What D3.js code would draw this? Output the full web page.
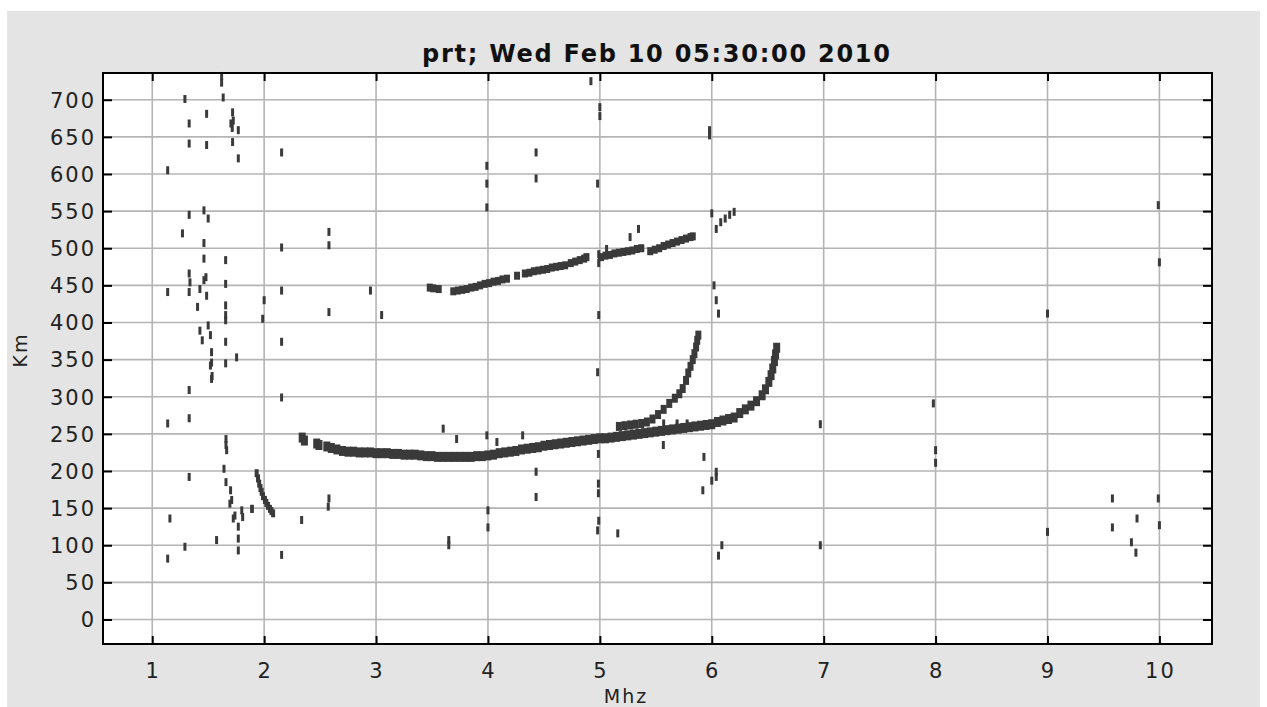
<!DOCTYPE html>
<html><head><meta charset="utf-8">
<script src="https://cdn.jsdelivr.net/npm/d3@7"></script>
<style>
html,body{margin:0;padding:0;background:#fff;}
svg{display:block;}
</style></head>
<body>
<svg id="chart" width="1267" height="707"></svg>
<script>
// ---------- DATA ----------
const title = "prt; Wed Feb 10 05:30:00 2010";
const xLabel = "Mhz";
const yLabel = "Km";
const xTicks = [1,2,3,4,5,6,7,8,9,10];
const yTicks = [0,50,100,150,200,250,300,350,400,450,500,550,600,650,700];

// main F-trace (frequency MHz, virtual height km)
const lowerTrace = [[2.34,245],[2.36,241],[2.47,237],[2.49,235],
 [2.56,233],[2.6,231],[2.65,229],[2.7,227],[2.75,226],[2.8,226],[2.85,225],[2.9,225],[2.95,225],
 [3.0,224],[3.05,224],[3.1,224],[3.15,223],[3.2,223],[3.25,222],[3.3,222],[3.35,222],[3.4,221],
 [3.45,220],[3.5,220],[3.55,219],[3.6,219],[3.65,219],[3.7,219],[3.75,219],[3.8,219],[3.85,219],
 [3.9,220],[3.95,220],[4.0,221],[4.05,222],[4.1,224],[4.15,225],[4.2,226],[4.25,227],[4.3,229],
 [4.35,230],[4.4,231],[4.45,232],[4.5,234],[4.55,235],[4.6,236],[4.65,237],[4.7,238],[4.75,239],
 [4.8,240],[4.85,241],[4.9,242],[4.95,243],[5.0,244],[5.05,244],[5.1,245],[5.15,246],[5.2,247],
 [5.25,248],[5.3,249],[5.35,250],[5.4,251],[5.45,252],[5.5,253],[5.55,254],[5.6,255],[5.65,256],
 [5.7,257],[5.75,258],[5.8,259],[5.85,260],[5.9,261],[5.95,262],[6.0,263],[6.05,266],[6.1,268],
 [6.15,270],[6.2,272],[6.25,278],[6.3,283],[6.35,288],[6.4,294],[6.45,302],[6.48,310],[6.51,320],
 [6.53,329],[6.545,338],[6.56,348],[6.57,357],[6.58,366]];

// second branch rising at ~5.9 MHz
const upperBranch = [[5.17,260],[5.22,261],[5.27,262],[5.32,263],[5.37,264],[5.42,266],[5.47,270],
 [5.52,276],[5.57,283],[5.62,291],[5.67,298],[5.71,304],[5.74,311],[5.77,322],[5.79,332],[5.81,341],
 [5.83,350],[5.845,358],[5.86,367],[5.87,376],[5.88,383]];

// multiple-hop trace near 450-515 km
const upperTrace = [[3.48,447],[3.51,446],[3.56,445],
 [3.69,442],[3.73,443],[3.77,444],[3.81,445],[3.85,447],[3.89,448],[3.93,450],[3.97,452],[4.01,453],
 [4.05,455],[4.09,456],[4.13,458],[4.17,459],[4.26,463],
 [4.33,466],[4.37,467],[4.41,469],[4.45,470],[4.49,471],[4.53,472],[4.57,474],[4.61,475],[4.65,476],[4.69,477],
 [4.74,480],[4.78,482],[4.82,484],[4.86,486],[4.88,488],
 [5.01,488],[5.05,490],[5.09,491],[5.13,493],[5.17,494],[5.21,495],[5.25,496],[5.29,497],[5.33,499],[5.37,500],
 [5.45,496],[5.49,498],[5.53,500],[5.57,503],[5.61,505],[5.65,507],[5.69,509],[5.73,511],[5.77,513],[5.81,515],[5.83,516]];

// short hook near 2 MHz
const hookTrace = [[1.933,197],[1.945,190],[1.956,183],[1.967,177],[1.978,172],[1.99,166],[2.007,161],
 [2.02,157],[2.035,153],[2.052,149],[2.065,146],[2.08,143]];

// isolated echoes
const scatterEchoes = [[1.62,723],[1.62,732],[1.292,701],[1.634,703],[1.486,681],[1.718,683],[1.33,668],[1.703,668],
 [1.715,662],[1.724,672],[1.769,659],[1.33,641],[1.486,639],[1.718,643],[1.769,621],[2.156,629],[1.138,605],
 [1.462,551],[1.33,545],[1.5,540],[1.27,520],[2.579,522],[1.462,507],[2.156,501],[2.579,504],[1.462,486],
 [1.656,484],[1.33,466],[1.337,454],[1.48,461],[1.462,457],[1.656,452],[1.138,441],[1.33,441],[1.426,445],
 [1.486,436],[2.156,443],[2.0,430],[1.405,421],[1.656,423],[1.656,410],[1.656,403],[1.987,405],[2.579,414],
 [1.5,396],[1.426,389],[1.52,383],[1.447,376],[1.656,374],[2.156,374],[1.53,360],[1.754,353],[1.52,342],
 [1.53,346],[1.656,345],[1.53,324],[1.535,328],[1.33,309],[2.156,299],[1.138,264],[1.33,271],[1.659,243],
 [1.659,235],[1.665,228],[1.641,203],[1.33,192],[1.659,185],[1.70,174],[1.71,161],[1.694,156],[1.724,136],
 [1.739,140],[1.8,147],[1.808,138],[1.888,149],[1.895,149],[1.769,125],[1.769,109],[1.769,93],[1.575,107],
 [1.292,98],[1.158,136],[1.138,82],[2.156,87],[2.335,134],[2.579,163],[2.573,152],
 [2.95,443],[3.05,410],[3.6,257],[3.65,107],[3.65,100],[3.99,248],[4.08,239],[4.31,248],[3.72,243],
 [4.0,124],[4.0,147],[4.43,199],[4.43,165],[3.99,611],[3.99,587],[3.99,555],[4.43,629],[4.43,594],
 [4.92,725],[5.0,690],[5.0,678],[4.98,587],[4.99,410],[4.98,333],[4.99,133],[4.98,120],[5.16,116],
 [4.987,223],[4.987,183],[4.987,170],[5.567,235],[5.93,219],[6.04,199],[6.04,192],[6.0,187],[5.92,174],
 [5.98,659],[5.98,652],[6.0,547],[6.02,450],[6.04,430],[6.06,412],[6.09,100],[6.06,86],[6.97,263],
 [6.97,100],[7.98,291],[8.0,228],[8.0,211],[9.0,412],[9.0,118],[9.58,124],[9.58,163],[9.80,136],
 [9.75,104],[9.79,90],[9.99,558],[10.0,481],[9.99,163],[10.0,127],[4.99,480],[4.99,492],[5.06,499],
 [5.27,515],[5.345,526],[6.04,526],[6.08,535],[6.12,540],[6.16,545],[6.2,549],[5.57,264],[5.69,264],[5.78,264]];

// ---------- LAYOUT ----------
const W = 1267, H = 707;
const plot = {left:103, right:1212, top:73, bottom:644};
const svg = d3.select("#chart");
const ink = "#3a3a3a";

svg.append("rect").attr("x",7).attr("y",11).attr("width",1253).attr("height",H-11).attr("fill","#e4e4e4");
svg.append("rect").attr("x",plot.left).attr("y",plot.top)
  .attr("width",plot.right-plot.left).attr("height",plot.bottom-plot.top).attr("fill","#fff");

const x = d3.scaleLinear().domain([0.56,10.47]).range([plot.left,plot.right]);
const y = d3.scaleLinear().domain([-33,736]).range([plot.bottom,plot.top]);

// grid
const grid = svg.append("g");
grid.selectAll(".vx").data(xTicks).join("line")
  .attr("x1",d=>x(d)).attr("x2",d=>x(d)).attr("y1",plot.top).attr("y2",plot.bottom)
  .attr("stroke","#b4b4b4").attr("stroke-width",1.6);
grid.selectAll(".hy").data(yTicks).join("line")
  .attr("y1",d=>y(d)).attr("y2",d=>y(d)).attr("x1",plot.left).attr("x2",plot.right)
  .attr("stroke","#b4b4b4").attr("stroke-width",1.6);

// marks
function dashes(data, w, h){
  svg.append("g").selectAll("rect").data(data).join("rect")
    .attr("x",d=>x(d[0])-w/2).attr("y",d=>y(d[1])-h/2)
    .attr("width",w).attr("height",h).attr("fill",ink);
}
dashes(scatterEchoes, 3, 8);
dashes(hookTrace, 4, 8);
dashes(upperTrace, 6, 8);
dashes(upperBranch, 6, 9);
dashes(lowerTrace, 7, 10);

// axes (ticks inward)
const tickStyle = g => {
  g.select(".domain").remove();
  g.selectAll(".tick line").attr("stroke","#000").attr("stroke-width",2);
  g.selectAll(".tick text").remove();
};
svg.append("g").attr("transform",`translate(0,${plot.bottom})`)
  .call(d3.axisTop(x).tickValues(xTicks).tickSize(8)).call(tickStyle);
svg.append("g").attr("transform",`translate(0,${plot.top})`)
  .call(d3.axisBottom(x).tickValues(xTicks).tickSize(8)).call(tickStyle);
svg.append("g").attr("transform",`translate(${plot.left},0)`)
  .call(d3.axisRight(y).tickValues(yTicks).tickSize(9)).call(tickStyle);
svg.append("g").attr("transform",`translate(${plot.right},0)`)
  .call(d3.axisLeft(y).tickValues(yTicks).tickSize(9)).call(tickStyle);

// frame
svg.append("rect").attr("x",plot.left).attr("y",plot.top)
  .attr("width",plot.right-plot.left).attr("height",plot.bottom-plot.top)
  .attr("fill","none").attr("stroke","#000").attr("stroke-width",2);

// tick labels
const lblFont = "'DejaVu Sans', sans-serif";
svg.append("g").selectAll("text").data(yTicks).join("text")
  .attr("x",96).attr("y",d=>y(d)).attr("dy","0.37em")
  .attr("text-anchor","end").attr("font-family",lblFont).attr("font-size",21)
  .attr("letter-spacing","2px").attr("fill","#222").text(d=>d);
svg.append("g").selectAll("text").data(xTicks).join("text")
  .attr("x",d=>x(d)+1).attr("y",678)
  .attr("text-anchor","middle").attr("font-family",lblFont).attr("font-size",21)
  .attr("letter-spacing","2px").attr("fill","#222").text(d=>d);

// title
svg.append("text").attr("x",656).attr("y",62).attr("text-anchor","middle")
  .attr("font-family",lblFont).attr("font-weight","bold").attr("font-size",24)
  .attr("textLength",468).attr("lengthAdjust","spacing").attr("fill","#111").text(title);

// axis titles
svg.append("text").attr("x",626).attr("y",703).attr("text-anchor","middle")
  .attr("font-family",lblFont).attr("font-size",19).attr("letter-spacing","2px")
  .attr("fill","#222").text(xLabel);
svg.append("text").attr("transform","translate(27,350) rotate(-90)").attr("text-anchor","middle")
  .attr("font-family",lblFont).attr("font-size",19).attr("letter-spacing","2px")
  .attr("fill","#222").text(yLabel);
</script>
</body></html>
